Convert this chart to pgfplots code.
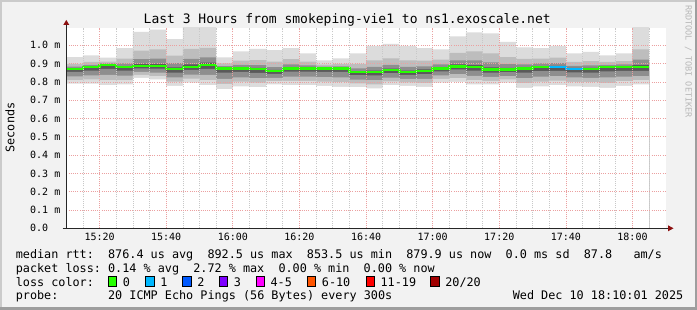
\documentclass[border=0pt]{standalone}
\usepackage{fontspec}
\setmainfont{DejaVu Sans Mono}
\usepackage{pgfplots}
\usepackage{pgfplotstable}
\pgfplotsset{compat=1.18}
\definecolor{bg}{HTML}{F2F2F2}
\definecolor{shadeA}{HTML}{CBCBCB}
\definecolor{shadeB}{HTML}{9E9E9E}
\definecolor{sA}{HTML}{DCDCDC}
\definecolor{sB}{HTML}{BDBDBD}
\definecolor{sC}{HTML}{8E8E8E}
\definecolor{sD}{HTML}{5A5A5A}
\definecolor{mgrid}{HTML}{EBA0A0}
\definecolor{mingrid}{HTML}{C8C8C8}
\definecolor{arrowc}{HTML}{8C1010}
\definecolor{L0}{HTML}{26FF00}
\definecolor{L1}{HTML}{00B8FF}
\definecolor{L2}{HTML}{0059FF}
\definecolor{L3}{HTML}{7E00FF}
\definecolor{L4}{HTML}{FF00FF}
\definecolor{L6}{HTML}{FF5500}
\definecolor{L11}{HTML}{FF0000}
\definecolor{L20}{HTML}{A10000}
\pgfplotstableread{
t mn p10 p25 p40 med p60 p75 p90 mx
0 0.790 0.810 0.830 0.854 0.870 0.874 0.883 0.899 0.935
5 0.791 0.813 0.836 0.862 0.880 0.884 0.893 0.909 0.945
10 0.782 0.810 0.838 0.871 0.893 0.896 0.901 0.911 0.933
15 0.787 0.810 0.834 0.861 0.880 0.886 0.901 0.927 0.985
20 0.822 0.838 0.855 0.874 0.887 0.898 0.924 0.971 1.073
25 0.813 0.832 0.850 0.872 0.887 0.899 0.927 0.977 1.086
30 0.778 0.801 0.824 0.851 0.869 0.879 0.902 0.943 1.033
35 0.796 0.818 0.839 0.865 0.882 0.895 0.926 0.980 1.100
40 0.782 0.810 0.838 0.871 0.893 0.905 0.934 0.986 1.100
45 0.760 0.789 0.817 0.851 0.874 0.878 0.886 0.901 0.934
50 0.776 0.801 0.825 0.854 0.874 0.880 0.893 0.916 0.967
55 0.771 0.796 0.820 0.849 0.869 0.876 0.891 0.919 0.980
60 0.786 0.804 0.822 0.844 0.858 0.865 0.881 0.910 0.973
65 0.782 0.805 0.828 0.856 0.874 0.881 0.896 0.924 0.985
70 0.782 0.805 0.828 0.856 0.874 0.879 0.890 0.911 0.956
75 0.778 0.802 0.826 0.855 0.874 0.877 0.883 0.894 0.918
80 0.773 0.798 0.824 0.854 0.874 0.877 0.885 0.899 0.929
85 0.771 0.792 0.812 0.837 0.853 0.859 0.874 0.899 0.956
90 0.764 0.786 0.809 0.835 0.853 0.862 0.882 0.917 0.996
95 0.782 0.803 0.823 0.848 0.864 0.873 0.893 0.928 1.007
100 0.778 0.797 0.816 0.838 0.853 0.862 0.882 0.917 0.996
105 0.773 0.795 0.817 0.843 0.860 0.868 0.885 0.916 0.985
110 0.796 0.816 0.835 0.858 0.874 0.880 0.895 0.921 0.978
115 0.800 0.821 0.843 0.868 0.885 0.895 0.918 0.959 1.049
120 0.786 0.810 0.833 0.861 0.880 0.891 0.918 0.966 1.071
125 0.786 0.806 0.827 0.851 0.867 0.879 0.907 0.956 1.065
130 0.796 0.814 0.832 0.853 0.867 0.876 0.897 0.935 1.018
135 0.767 0.793 0.820 0.851 0.872 0.879 0.895 0.925 0.989
140 0.775 0.801 0.828 0.859 0.880 0.886 0.901 0.927 0.985
145 0.782 0.807 0.831 0.860 0.880 0.887 0.903 0.932 0.996
150 0.776 0.800 0.824 0.852 0.871 0.876 0.888 0.909 0.956
155 0.773 0.798 0.822 0.851 0.871 0.877 0.890 0.913 0.964
160 0.767 0.795 0.824 0.857 0.880 0.884 0.893 0.909 0.945
165 0.778 0.804 0.829 0.860 0.880 0.885 0.895 0.914 0.956
170 0.786 0.809 0.832 0.860 0.880 0.891 0.922 0.978 1.100
175 0.786 0.809 0.832 0.860 0.880 0.891 0.922 0.978 1.100
}\smoke
\pgfplotstableread{
t med
145 0.880
150 0.871
155 0.871
}\lossone
\newcommand{\lf}{\fontsize{11.8}{14}\selectfont}
\begin{document}
\begin{tikzpicture}[x=1pt,y=1pt]
\useasboundingbox (0,0) rectangle (697,310);
\fill[bg] (0,0) rectangle (697,310);
\fill[shadeA] (0,308) rectangle (697,310);
\fill[shadeA] (0,0) rectangle (2,310);
\fill[shadeB] (0,0) rectangle (697,2.5);
\fill[shadeB] (694.5,0) rectangle (697,310);
\begin{axis}[
  at={(66.3pt,81.7pt)}, anchor=south west, scale only axis,
  width=599.5pt, height=200.6pt,
  xmin=0, xmax=180, ymin=0, ymax=1.096,
  axis background/.style={fill=white},
  axis on top,
  axis lines*=left,
  axis line style={-, draw=black!85, line width=0.9pt},
  xtick={10,30,50,70,90,110,130,150,170},
  xticklabels={\textnormal{15:20},\textnormal{15:40},\textnormal{16:00},\textnormal{16:20},\textnormal{16:40},\textnormal{17:00},\textnormal{17:20},\textnormal{17:40},\textnormal{18:00}},
  minor xtick={5,10,...,175},
  ytick={0,0.1,0.2,0.3,0.4,0.5,0.6,0.7,0.8,0.9,1.0},
  yticklabels={\textnormal{0.0},\textnormal{0.1 m},\textnormal{0.2 m},\textnormal{0.3 m},\textnormal{0.4 m},\textnormal{0.5 m},\textnormal{0.6 m},\textnormal{0.7 m},\textnormal{0.8 m},\textnormal{0.9 m},\textnormal{1.0 m}},
  grid=both,
  major grid style={mgrid, line width=0.7pt, dash pattern=on 1pt off 1.2pt},
  minor grid style={mingrid, line width=0.7pt, dash pattern=on 1pt off 1.2pt},
  xtick style={draw=none}, minor x tick style={draw=none}, ytick style={draw=none},
  tick align=outside, major tick length=0pt, minor tick length=0pt,
  xticklabel style={font=\fontsize{10}{12}\selectfont, anchor=north, inner sep=0pt, yshift=-5pt},
  yticklabel style={font=\fontsize{10}{12}\selectfont, anchor=west, inner sep=0pt, xshift=-36.3pt},
]
\addplot[fill=sA, draw=none, const plot mark left] table[x=t,y=mx]{\smoke} \closedcycle;
\addplot[fill=sB, draw=none, const plot mark left] table[x=t,y=p90]{\smoke} \closedcycle;
\addplot[fill=sC, draw=none, const plot mark left] table[x=t,y=p75]{\smoke} \closedcycle;
\addplot[fill=sD, draw=none, const plot mark left] table[x=t,y=p60]{\smoke} \closedcycle;
\addplot[fill=sC, draw=none, const plot mark left] table[x=t,y=p40]{\smoke} \closedcycle;
\addplot[fill=sB, draw=none, const plot mark left] table[x=t,y=p25]{\smoke} \closedcycle;
\addplot[fill=sA, draw=none, const plot mark left] table[x=t,y=p10]{\smoke} \closedcycle;
\addplot[fill=white, draw=none, const plot mark left] table[x=t,y=mn]{\smoke} \closedcycle;
\addplot[L0, line width=2.4pt, const plot mark left, mark=none] table[x=t,y=med]{\smoke};
\addplot[L1, line width=2.4pt, const plot mark left, mark=none] table[x=t,y=med]{\lossone};
\end{axis}
% axis extensions and arrows
\draw[black!85, line width=0.9pt] (66.3,281) -- (66.3,286);
\draw[black!85, line width=0.9pt] (62.7,81.7) -- (669,81.7);
\fill[arrowc] (63.3,285) -- (69.3,285) -- (66.3,290) -- cycle;
\fill[arrowc] (668,78.7) -- (668,84.7) -- (673.5,81.7) -- cycle;
% title
\node[anchor=base, inner sep=0pt, font=\fontsize{13}{15}\selectfont] at (347.2,286) {Last 3 Hours from smokeping-vie1 to ns1.exoscale.net};
\node[rotate=90, inner sep=0pt, font=\lf] at (10,182.5) {Seconds};
\node[rotate=-90, anchor=west, inner sep=0pt, text=black!28, font=\fontsize{8.5}{10}\selectfont] at (688.5,305) {RRDTOOL / TOBI OETIKER};
% legend text
\begin{scope}[every node/.style={anchor=base west, inner sep=0pt, font=\lf}]
\node at (15.6,51.3) {median rtt:};
\node at (107.9,51.3) {876.4 us avg};
\node at (207.3,51.3) {892.5 us max};
\node at (306.7,51.3) {853.5 us min};
\node at (406.1,51.3) {879.9 us now};
\node at (505.5,51.3) {0.0 ms sd};
\node at (583.6,51.3) {87.8};
\node at (633.3,51.3) {am/s};
\node at (15.6,37.5) {packet loss:};
\node at (107.9,37.5) {0.14 \% avg};
\node at (193.1,37.5) {2.72 \% max};
\node at (278.3,37.5) {0.00 \% min};
\node at (363.5,37.5) {0.00 \% now};
\node at (15.6,23.7) {loss color:};
\node at (122.7,23.7) {0};
\node at (160.1,23.7) {1};
\node at (197.1,23.7) {2};
\node at (233.7,23.7) {3};
\node at (270.4,23.7) {4-5};
\node at (321.7,23.7) {6-10};
\node at (380.4,23.7) {11-19};
\node at (445.1,23.7) {20/20};
\node at (15.6,10.2) {probe:};
\node at (107.9,10.2) {20 ICMP Echo Pings (56 Bytes) every 300s};
\node at (512.6,10.2) {Wed Dec 10 18:10:01 2025};
\end{scope}
\foreach \bx/\bc in {108.3/L0,145.7/L1,182.7/L2,219.3/L3,256/L4,307.3/L6,366/L11,430.7/L20}{
  \filldraw[fill=\bc, draw=black, line width=0.8pt] (\bx,23.5) rectangle ++(8.5,10.5);
}
\end{tikzpicture}
\end{document}
